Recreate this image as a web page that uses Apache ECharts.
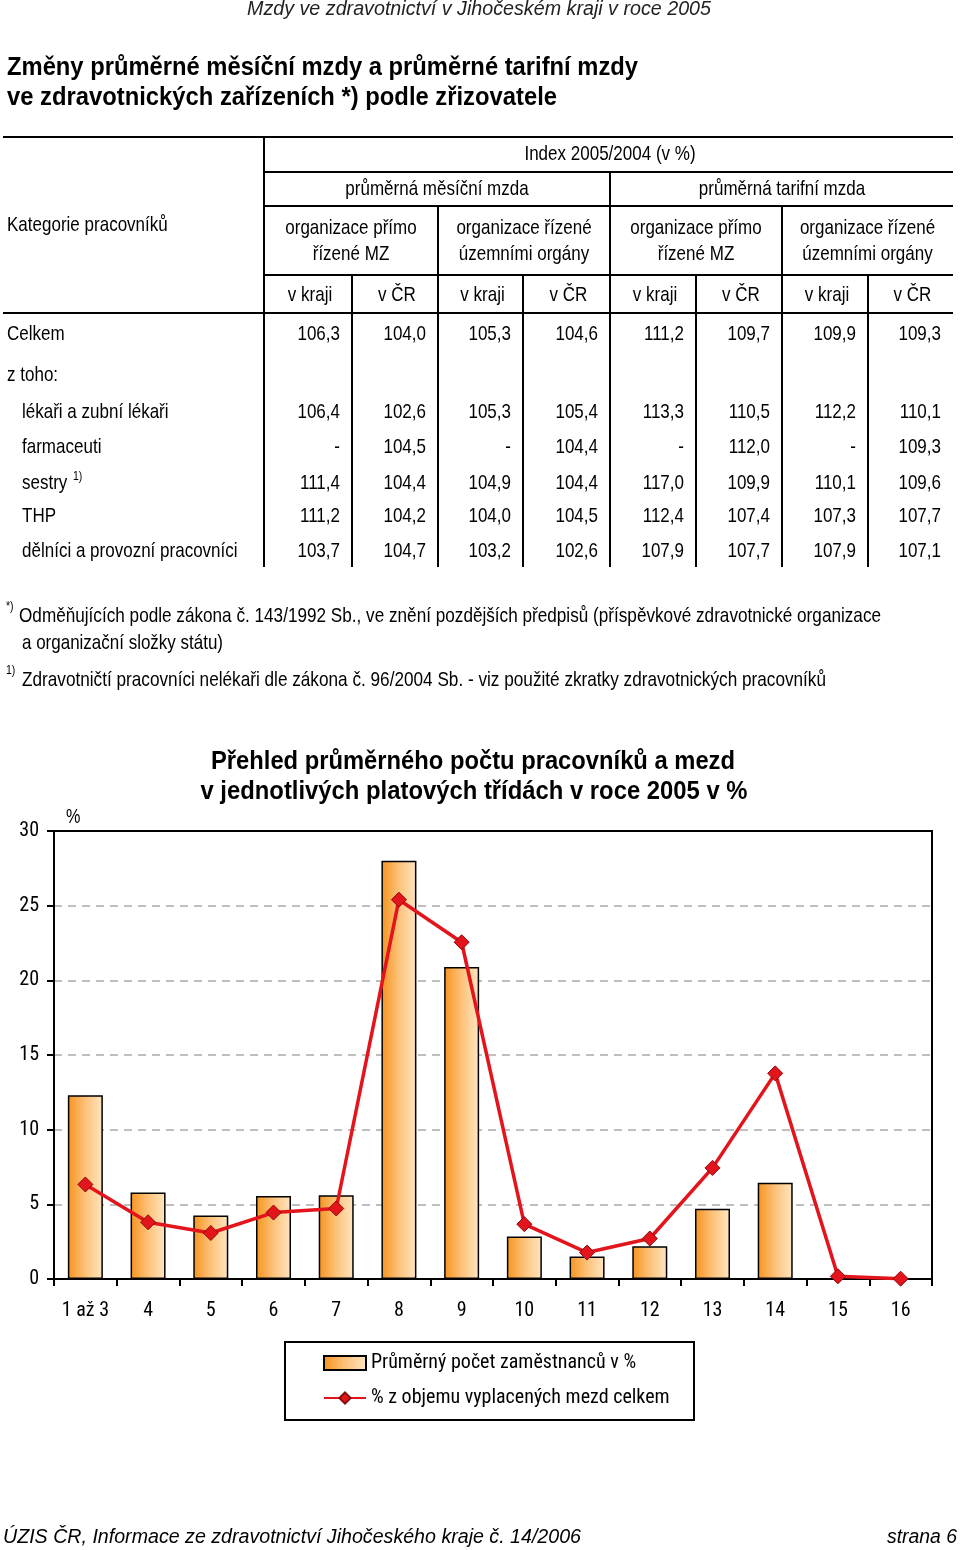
<!DOCTYPE html>
<html><head><meta charset="utf-8">
<script src="https://cdn.jsdelivr.net/npm/echarts/dist/echarts.min.js"></script>
<style>html,body{margin:0;padding:0;background:#fff}#c{width:960px;height:1550px}</style>
</head><body><div id="c"></div>
<script>
// ---- Chart data ----
const classes = ['1 až 3','4','5','6','7','8','9','10','11','12','13','14','15','16'];
const employeesPct = [12.3, 5.8, 4.25, 5.55, 5.6, 28.0, 20.9, 2.85, 1.5, 2.2, 4.7, 6.45, 0.05, 0];
const wagesPct = [6.33, 3.8, 3.08, 4.45, 4.72, 25.4, 22.55, 3.67, 1.77, 2.71, 7.44, 13.77, 0.18, 0.02];
const yTicks = [0, 5, 10, 15, 20, 25, 30];
const seriesNames = ['Průměrný počet zaměstnanců v %', '% z objemu vyplacených mezd celkem'];

// ---- Table data ----
const rowLabels = ['Celkem', 'z toho:', 'lékaři a zubní lékaři', 'farmaceuti', 'sestry', 'THP', 'dělníci a provozní pracovníci'];
const rowCelkem = [106.3, 104.0, 105.3, 104.6, 111.2, 109.7, 109.9, 109.3];
const rowZtoho = [];
const rowLekari = [106.4, 102.6, 105.3, 105.4, 113.3, 110.5, 112.2, 110.1];
const rowFarmaceuti = [null, 104.5, null, 104.4, null, 112.0, null, 109.3];
const rowSestry = [111.4, 104.4, 104.9, 104.4, 117.0, 109.9, 110.1, 109.6];
const rowTHP = [111.2, 104.2, 104.0, 104.5, 112.4, 107.4, 107.3, 107.7];
const rowDelnici = [103.7, 104.7, 103.2, 102.6, 107.9, 107.7, 107.9, 107.1];
const tableRows = [rowCelkem, rowZtoho, rowLekari, rowFarmaceuti, rowSestry, rowTHP, rowDelnici];
const subHeaders = ['v kraji', 'v ČR', 'v kraji', 'v ČR', 'v kraji', 'v ČR', 'v kraji', 'v ČR'];
const orgHeaders = [['organizace přímo', 'řízené MZ'], ['organizace řízené', 'územními orgány'], ['organizace přímo', 'řízené MZ'], ['organizace řízené', 'územními orgány']];
const wageHeaders = ['průměrná měsíční mzda', 'průměrná tarifní mzda'];

const mctx = document.createElement('canvas').getContext('2d');
const FF = 'Liberation Sans';
const FC = '"Roboto Condensed", "Liberation Sans", sans-serif';
const TS = 21, TSX = 0.81;

const colRight = [352, 438, 523, 610, 696, 782, 868, 953];
const colLeft = [264, 352, 438, 523, 610, 696, 782, 868];
const rowY = [334, 375, 412, 447, 483, 516, 551];

const g = [];
function txt(s, x, y, size, opt) {
  opt = opt || {};
  const font = (opt.italic ? 'italic ' : '') + (opt.bold ? 'bold ' : '') + size + 'px "' + FF + '", sans-serif';
  let sx = opt.sx || TSX;
  if (opt.w) { mctx.font = font; sx = opt.w / mctx.measureText(s).width; }
  g.push({
    type: 'text', x: x, y: y, scaleX: sx, z: 100,
    style: {
      text: s, x: 0, y: 0, font: font,
      fill: opt.fill || '#000',
      textAlign: opt.align || 'left', textVerticalAlign: 'middle'
    }
  });
}
function ln(x1, y1, x2, y2, w) {
  g.push({ type: 'line', z: 100, shape: { x1: x1, y1: y1, x2: x2, y2: y2 }, style: { stroke: '#000', lineWidth: w || 2 } });
}

// header / titles
txt('Mzdy ve zdravotnictví v Jihočeském kraji v roce 2005', 711, 9, 20, { italic: true, align: 'right', fill: '#222', w: 464 });
txt('Změny průměrné měsíční mzdy a průměrné tarifní mzdy', 7, 68, 25, { bold: true, w: 631 });
txt('ve zdravotnických zařízeních *) podle zřizovatele', 7, 98, 25, { bold: true, w: 550 });

// table lines
ln(3, 137, 953, 137);
ln(264, 172, 953, 172);
ln(264, 206, 953, 206);
ln(264, 275, 953, 275);
ln(3, 313, 953, 313);
ln(264, 137, 264, 567);
ln(610, 172, 610, 567);
ln(438, 206, 438, 567);
ln(782, 206, 782, 567);
[352, 523, 696, 868].forEach(function (x) { ln(x, 275, x, 567); });

// table header texts
txt('Kategorie pracovníků', 7, 225, TS);
txt('Index 2005/2004 (v %)', 610, 154, TS, { align: 'center' });
txt(wageHeaders[0], 437, 189, TS, { align: 'center' });
txt(wageHeaders[1], 782, 189, TS, { align: 'center' });
orgHeaders.forEach(function (h, i) {
  const cx = (colLeft[i * 2] + colRight[i * 2 + 1]) / 2;
  txt(h[0], cx, 228, TS, { align: 'center' });
  txt(h[1], cx, 254, TS, { align: 'center' });
});
subHeaders.forEach(function (h, i) {
  txt(h, (colLeft[i] + colRight[i]) / 2 + 2, 295, TS, { align: 'center' });
});

// table body
rowLabels.forEach(function (lab, r) {
  const indent = r >= 2 ? 22 : 7;
  txt(lab, indent, rowY[r], TS);
  tableRows[r].forEach(function (v, c) {
    const s = v === null ? '-' : v.toFixed(1).replace('.', ',');
    txt(s, colRight[c] - 12, rowY[r], TS, { align: 'right' });
  });
});
txt('1)', 73, 476, 13);

// footnotes
txt('*)', 6, 606, 13);
txt('Odměňujících podle zákona č. 143/1992 Sb., ve znění pozdějších předpisů (příspěvkové zdravotnické organizace', 19, 616, 21, { w: 862 });
txt('a organizační složky státu)', 22, 643, 21, { w: 201 });
txt('1)', 6, 670, 13);
txt('Zdravotničtí pracovníci nelékaři dle zákona č. 96/2004 Sb. - viz použité zkratky zdravotnických pracovníků', 22, 680, 21, { w: 804 });

// chart title & unit
txt('Přehled průměrného počtu pracovníků a mezd', 473, 762, 25, { bold: true, align: 'center', w: 524 });
txt('v jednotlivých platových třídách v roce 2005 v %', 474, 792, 25, { bold: true, align: 'center', w: 547 });
txt('%', 66, 817, 20);

// legend frame
g.push({ type: 'rect', z: 100, shape: { x: 285, y: 1342, width: 409, height: 78 }, style: { fill: 'none', stroke: '#000', lineWidth: 2 } });

// footer
txt('ÚZIS ČR, Informace ze zdravotnictví Jihočeského kraje č. 14/2006', 3, 1537, 20, { italic: true, w: 578 });
txt('strana 6', 957, 1537, 20, { italic: true, align: 'right', w: 70 });

const chart = echarts.init(document.getElementById('c'), null, { renderer: 'canvas' });
const barGrad = new echarts.graphic.LinearGradient(0, 0, 1, 0, [
  { offset: 0, color: '#f7931e' }, { offset: 0.5, color: '#fcc27a' }, { offset: 1, color: '#ffe6c2' }
]);
chart.setOption({
  animation: false,
  textStyle: { fontFamily: FC },
  grid: { left: 54, right: 28, top: 831, bottom: 271 },
  legend: {
    orient: 'vertical', left: 318, top: 1348, itemWidth: 42, itemHeight: 14, itemGap: 15,
    textStyle: { fontSize: 20, color: '#000', fontFamily: FC },
    data: [{ name: seriesNames[0], icon: 'rect' }, { name: seriesNames[1] }]
  },
  xAxis: [{
    type: 'category', data: classes, boundaryGap: true,
    axisLine: { lineStyle: { color: '#000', width: 2 } },
    axisTick: { show: true, length: 7, lineStyle: { color: '#000', width: 2 } },
    axisLabel: { color: '#000', fontSize: 20, margin: 22, fontFamily: FC, interval: 0 }
  }, {
    type: 'category', data: classes, position: 'top',
    axisLine: { show: true, onZero: false, lineStyle: { color: '#000', width: 2 } },
    axisTick: { show: false }, axisLabel: { show: false }
  }],
  yAxis: [{
    type: 'value', min: 0, max: 30, interval: 5,
    axisLine: { show: true, lineStyle: { color: '#000', width: 2 } },
    axisTick: { show: true, length: 7, lineStyle: { color: '#000', width: 2 } },
    axisLabel: { color: '#000', fontSize: 20, margin: 15, fontFamily: FC,
      formatter: function (v) { return yTicks.indexOf(v) >= 0 ? String(v) : ''; } },
    splitLine: { show: true, lineStyle: { color: '#aaa', type: [8, 6], width: 1.5 } }
  }, {
    type: 'value', min: 0, max: 30, interval: 5, position: 'right',
    axisLine: { show: true, onZero: false, lineStyle: { color: '#000', width: 2 } },
    axisTick: { show: false }, axisLabel: { show: false }, splitLine: { show: false }
  }],
  series: [{
    name: seriesNames[0], type: 'bar', data: employeesPct, barWidth: 35,
    itemStyle: { color: barGrad, borderColor: '#000', borderWidth: 1.5 }
  }, {
    name: seriesNames[1], type: 'line', data: wagesPct, z: 5,
    lineStyle: { color: '#e3141b', width: 3.5 },
    symbol: 'diamond', symbolSize: [15, 15],
    itemStyle: { color: '#e3141b', borderColor: '#8a0a0a', borderWidth: 1 }
  }],
  graphic: { elements: g }
});
</script></body></html>
